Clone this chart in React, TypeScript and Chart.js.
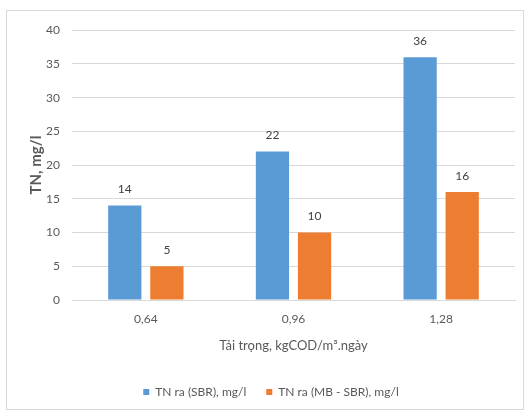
import React, { useEffect, useRef } from "react";
import { Chart, registerables } from "chart.js";

Chart.register(...registerables);

const categories = ["0,64", "0,96", "1,28"];
const sbrValues = [14, 22, 36];
const mbSbrValues = [5, 10, 16];
const seriesNames = ["TN ra (SBR), mg/l", "TN ra (MB - SBR), mg/l"];
const yTitle = "TN, mg/l";
const xTitle = "Tải trọng, kgCOD/m³.ngày";

const FONT = "Lato, 'Open Sans', sans-serif";
const TEXT = "#595959";

const labelPlugin = {
  id: "barLabels",
  afterDatasetsDraw(chart: any) {
    const ctx = chart.ctx;
    ctx.save();
    ctx.font = `12px ${FONT}`;
    ctx.fillStyle = "#404040";
    ctx.textAlign = "center";
    ctx.textBaseline = "bottom";
    chart.data.datasets.forEach((ds: any, i: number) => {
      const meta = chart.getDatasetMeta(i);
      meta.data.forEach((el: any, j: number) => {
        ctx.fillText(String(ds.data[j]), el.x, el.y - 10);
      });
    });
    ctx.restore();
  },
};

export default function App() {
  const ref = useRef<HTMLCanvasElement | null>(null);
  useEffect(() => {
    if (!ref.current) return;
    const chart = new Chart(ref.current, {
      type: "bar",
      data: {
        labels: categories,
        datasets: [
          { label: seriesNames[0], data: sbrValues, backgroundColor: "#5B9BD5" },
          { label: seriesNames[1], data: mbSbrValues, backgroundColor: "#ED7D31" },
        ],
      },
      options: {
        animation: false,
        responsive: true,
        maintainAspectRatio: false,
        datasets: { bar: { categoryPercentage: 0.57, barPercentage: 0.79 } },
        layout: { padding: { top: 13, right: 8, left: 20, bottom: 1 } },
        plugins: {
          legend: {
            position: "bottom",
            labels: {
              boxWidth: 6,
              boxHeight: 6,
              padding: 20,
              color: TEXT,
              font: { family: FONT, size: 12 },
            },
          },
          tooltip: { enabled: false },
        },
        scales: {
          x: {
            grid: { display: false },
            border: { color: "#D9D9D9" },
            ticks: { color: TEXT, font: { family: FONT, size: 12 }, padding: 4 },
            title: {
              display: true,
              text: xTitle,
              color: TEXT,
              font: { family: FONT, size: 13 },
              padding: { top: 8, bottom: 12 },
            },
          },
          y: {
            min: 0,
            max: 40,
            afterFit: (scale: any) => {
              scale.width = 45;
            },
            ticks: { stepSize: 5, color: TEXT, font: { family: FONT, size: 12 }, padding: 12 },
            grid: { color: "#D9D9D9", drawTicks: false },
            border: { display: false },
            title: {
              display: true,
              text: yTitle,
              color: TEXT,
              font: { family: FONT, size: 15, weight: "bold" },
              padding: { top: 0, bottom: 4 },
            },
          },
        },
      },
      plugins: [labelPlugin],
    });
    return () => chart.destroy();
  }, []);
  return (
    <div
      style={{
        position: "absolute",
        left: 6,
        top: 10,
        width: 518,
        height: 400,
        border: "1px solid #D9D9D9",
        boxSizing: "border-box",
        background: "#fff",
      }}
    >
      <canvas ref={ref} />
    </div>
  );
}
